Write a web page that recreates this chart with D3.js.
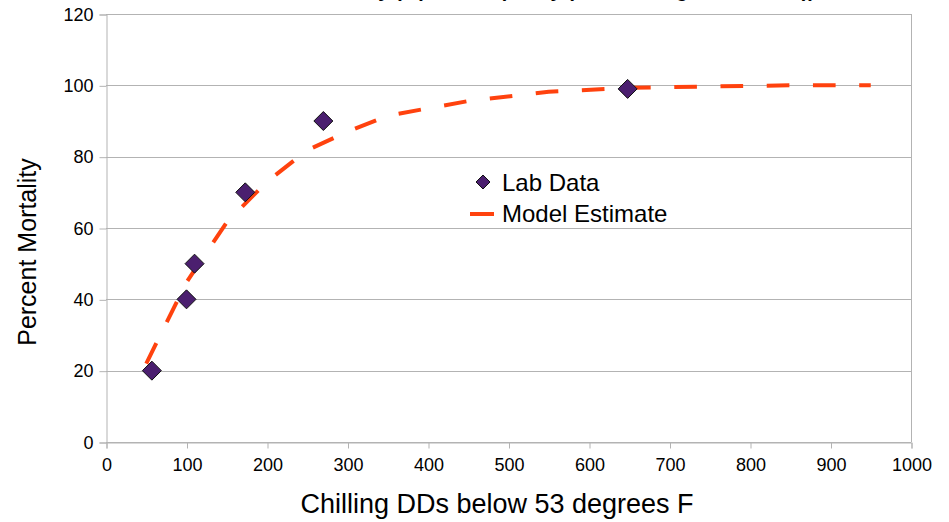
<!DOCTYPE html>
<html>
<head>
<meta charset="utf-8">
<script src="https://cdn.jsdelivr.net/npm/d3@7"></script>
<style>
  html, body { margin: 0; padding: 0; background: #fff; }
  svg { display: block; font-family: "Liberation Sans", Arial, sans-serif; }
</style>
</head>
<body>
<div id="chart"></div>
<script>
// lab observations
const labX = [57, 100, 110, 173, 270, 648];
const labY = [20, 40, 50, 70, 90, 99];

// model estimate curve
const modelX = [50, 100, 150, 200, 250, 300, 350, 450, 550, 650, 750, 850, 950];
const modelY = [22, 44.8, 61.6, 73, 81.8, 87, 91.5, 95.6, 98.2, 99.3, 99.7, 100, 100];

const xTicks = [0, 100, 200, 300, 400, 500, 600, 700, 800, 900, 1000];
const yTicks = [0, 20, 40, 60, 80, 100, 120];

const W = 949, H = 522;
const plot = { left: 106, right: 911, top: 14, bottom: 442 };

const svg = d3.select("#chart").append("svg")
  .attr("width", W).attr("height", H)
  .attr("viewBox", `0 0 ${W} ${H}`);

const x = d3.scaleLinear().domain([0, 1000]).range([plot.left, plot.right]);
const y = d3.scaleLinear().domain([0, 120]).range([plot.bottom, plot.top]);

const grid = "#b3b3b3";

// title, mostly cut off at the top edge
svg.append("text")
  .attr("x", 815).attr("y", -3)
  .attr("text-anchor", "end")
  .attr("font-size", 20).attr("font-weight", "bold")
  .text("Mortality (%) vs. DD (Study (Lab Chilling Trials, 2010))");

// horizontal grid
svg.append("g").selectAll("line").data(yTicks).join("line")
  .attr("x1", plot.left).attr("x2", plot.right)
  .attr("y1", d => Math.round(y(d)) + 0.5).attr("y2", d => Math.round(y(d)) + 0.5)
  .attr("stroke", grid).attr("stroke-width", 1);

// right border
svg.append("line")
  .attr("x1", plot.right + 0.5).attr("x2", plot.right + 0.5)
  .attr("y1", plot.top).attr("y2", plot.bottom)
  .attr("stroke", grid);

// axes
const yAxis = svg.append("g")
  .attr("transform", `translate(${plot.left + 0.5},0.5)`)
  .call(d3.axisLeft(y).tickValues(yTicks).tickSize(7).tickPadding(6));
const xAxis = svg.append("g")
  .attr("transform", `translate(0.5,${plot.bottom + 0.5})`)
  .call(d3.axisBottom(x).tickValues(xTicks).tickFormat(d3.format("d")).tickSize(6).tickPadding(10));

[yAxis, xAxis].forEach(a => {
  a.selectAll("path, line").attr("stroke", grid);
  a.selectAll("text").attr("fill", "#000").attr("font-size", 18)
    .attr("font-family", "Liberation Sans, Arial, sans-serif");
});

// axis titles
svg.append("text")
  .attr("x", 497).attr("y", 513)
  .attr("text-anchor", "middle").attr("font-size", 27)
  .text("Chilling DDs below 53 degrees F");
svg.append("text")
  .attr("transform", "translate(36,252) rotate(-90)")
  .attr("text-anchor", "middle").attr("font-size", 25)
  .text("Percent Mortality");

// model estimate
const line = d3.line().x(d => x(d[0])).y(d => y(d[1]));
const model = svg.append("path")
  .datum(d3.zip(modelX, modelY))
  .attr("d", line)
  .attr("fill", "none")
  .attr("stroke", "#ff420e")
  .attr("stroke-width", 4);
// stretch the dash period a bit so the line ends on a short dash like the original
const len = model.node().getTotalLength();
const period = len / (Math.round(len / 47) + 0.25);
model.attr("stroke-dasharray", `${period * 0.49} ${period * 0.51}`);

// lab data diamonds
const diamond = r => `M0,${-r}L${r},0L0,${r}L${-r},0Z`;
svg.append("g").selectAll("path").data(d3.zip(labX, labY)).join("path")
  .attr("transform", d => `translate(${x(d[0])},${y(d[1])})`)
  .attr("d", diamond(9.5))
  .attr("fill", "#4b1f6f")
  .attr("stroke", "#111")
  .attr("stroke-width", 1);

// legend
const leg = svg.append("g");
leg.append("path")
  .attr("transform", "translate(483,182)")
  .attr("d", diamond(7))
  .attr("fill", "#4b1f6f").attr("stroke", "#111");
leg.append("text").attr("x", 502).attr("y", 191)
  .attr("font-size", 24).text("Lab Data");
leg.append("line")
  .attr("x1", 470).attr("x2", 494).attr("y1", 214).attr("y2", 214)
  .attr("stroke", "#ff420e").attr("stroke-width", 4);
leg.append("text").attr("x", 502).attr("y", 222)
  .attr("font-size", 24).text("Model Estimate");
</script>
</body>
</html>
